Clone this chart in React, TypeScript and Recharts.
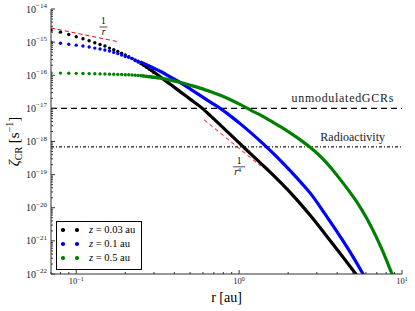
import React from 'react';
import { ComposedChart, Line, Scatter, XAxis, YAxis, ReferenceLine, ReferenceDot } from 'recharts';

const W = 415;
const H = 311;
const FONT = '"Liberation Serif", "Times New Roman", serif';
const AX = '#333';

// ---- data ----
const rDots = [0.07, 0.08, 0.09, 0.1, 0.11, 0.12, 0.13, 0.14, 0.15, 0.16, 0.17, 0.18, 0.19, 0.2, 0.21, 0.22, 0.23, 0.24, 0.25, 0.26, 0.27, 0.28, 0.29, 0.3];
const blackDots = [2.3e-15, 2.0e-15, 1.7e-15, 1.45e-15, 1.26e-15, 1.1e-15, 9.6e-16, 8.5e-16, 7.6e-16, 6.6e-16, 5.9e-16, 5.2e-16, 4.6e-16, 4.1e-16, 3.6e-16, 3.2e-16, 2.8e-16, 2.5e-16, 2.24e-16, 2.0e-16, 1.74e-16, 1.55e-16, 1.38e-16, 1.2e-16];
const blueDots = [1.0e-15, 9.2e-16, 8.6e-16, 8.1e-16, 7.6e-16, 7.1e-16, 6.6e-16, 6.2e-16, 5.8e-16, 5.4e-16, 4.9e-16, 4.5e-16, 4.1e-16, 3.7e-16, 3.5e-16, 3.2e-16, 2.9e-16, 2.65e-16, 2.45e-16, 2.25e-16, 2.05e-16, 1.87e-16, 1.73e-16, 1.6e-16];
const greenDots = [1.17e-16, 1.16e-16, 1.15e-16, 1.14e-16, 1.13e-16, 1.12e-16, 1.11e-16, 1.1e-16, 1.09e-16, 1.08e-16, 1.07e-16, 1.06e-16, 1.05e-16, 1.04e-16, 1.03e-16, 1.02e-16, 1.0e-16, 9.9e-17, 9.8e-17, 9.6e-17, 9.4e-17, 9.2e-17, 9.0e-17, 8.8e-17];

const blackLineR = [0.248, 0.286, 0.33, 0.38, 0.438, 0.505, 0.582, 0.67, 0.773, 0.891, 1.027, 1.183, 1.364, 1.573, 1.814, 2.091, 2.41, 2.778, 3.357, 4.256, 5.27, 6.07];
const blackLineV = [2.34e-16, 1.47e-16, 8.8e-17, 5.24e-17, 3.1e-17, 1.84e-17, 1.09e-17, 5.85e-18, 3.02e-18, 1.56e-18, 8.05e-19, 4.16e-19, 2.15e-19, 1.11e-19, 5.53e-20, 2.67e-20, 1.22e-20, 5.31e-21, 1.65e-21, 3.7e-22, 9.3e-23, 3.7e-23];
const blueLineR = [0.248, 0.286, 0.33, 0.38, 0.438, 0.505, 0.582, 0.67, 0.773, 0.891, 1.027, 1.183, 1.364, 1.573, 1.814, 2.091, 2.41, 2.778, 3.357, 4.256, 4.91, 5.8, 6.52];
const blueLineV = [2.51e-16, 1.81e-16, 1.3e-16, 8.77e-17, 5.89e-17, 3.75e-17, 2.39e-17, 1.52e-17, 9.66e-18, 5.73e-18, 3.29e-18, 1.82e-18, 9.73e-19, 5.02e-19, 2.51e-19, 1.21e-19, 5.62e-20, 2.49e-20, 6.64e-21, 1.16e-21, 3.83e-22, 9.5e-23, 3.5e-23];
const greenLineR = [0.248, 0.286, 0.33, 0.38, 0.438, 0.505, 0.582, 0.67, 0.773, 0.891, 1.027, 1.183, 1.364, 1.573, 1.814, 2.091, 2.41, 2.778, 3.357, 3.69, 4.256, 4.91, 5.4, 6.07, 6.84, 7.52, 8.67, 9.31];
const greenLineV = [9.66e-17, 8.89e-17, 8.17e-17, 7.11e-17, 6.02e-17, 4.95e-17, 4.02e-17, 3.17e-17, 2.45e-17, 1.79e-17, 1.27e-17, 8.71e-18, 6.15e-18, 4.1e-18, 2.7e-18, 1.72e-18, 1.06e-18, 6.28e-19, 2.61e-19, 1.53e-19, 6.37e-20, 2.49e-20, 1.26e-20, 4.79e-21, 1.54e-21, 5.61e-22, 1.02e-22, 4.3e-23];

const invR_R = [0.07, 0.18];
const invR_V = [2.67e-15, 1.03e-15];
const invR4_R = [0.61, 1.36];
const invR4_V = [4.5e-18, 1.8e-19];

const unmodulatedGCRs = 1e-17;
const radioactivity = 6.9e-19;

const seriesNames = ['z = 0.03 au', 'z = 0.1 au', 'z = 0.5 au'];
const seriesColors = ['#000000', '#0000ff', '#008000'];

const xMajor = [0.1, 1, 10];
const yMajor = [1e-22, 1e-21, 1e-20, 1e-19, 1e-18, 1e-17, 1e-16, 1e-15, 1e-14];
const minorMult = [2, 3, 4, 5, 6, 7, 8, 9];

const X_DOMAIN: [number, number] = [0.07, 10];
const Y_DOMAIN: [number, number] = [1e-22, 1e-14];

// ---- derived ----
const pts = (rs: number[], vs: number[]) => rs.map((r, i) => ({ r, v: vs[i] }));
const blackDotData = pts(rDots, blackDots);
const blueDotData = pts(rDots, blueDots);
const greenDotData = pts(rDots, greenDots);
const blackLine = pts(blackLineR, blackLineV);
const blueLine = pts(blueLineR, blueLineV);
const greenLine = pts(greenLineR, greenLineV);
const invRLine = pts(invR_R, invR_V);
const invR4Line = pts(invR4_R, invR4_V);

const withMinor = (majors: number[], lo: number, hi: number) => {
  const out: number[] = [];
  const exps = majors.map((m) => Math.round(Math.log10(m)));
  const first = exps[0] - 1;
  for (let e = first; e <= exps[exps.length - 1]; e++) {
    [1, ...minorMult].forEach((k) => {
      const v = Number(`${k}e${e}`);
      if (v >= lo * 0.9999 && v <= hi * 1.0001) out.push(v);
    });
  }
  return out;
};
const xTicks = withMinor(xMajor, X_DOMAIN[0], X_DOMAIN[1]);
const yTicks = withMinor(yMajor, Y_DOMAIN[0], Y_DOMAIN[1]);

const isMajor = (v: number) => {
  const l = Math.log10(v);
  return Math.abs(l - Math.round(l)) < 1e-6;
};
const expStr = (v: number) => {
  const e = Math.round(Math.log10(v));
  return e < 0 ? '\u2212' + Math.abs(e) : String(e);
};

const TS = 4;
const MAJ = 4;
const MIN = 2;

const LeftTick = (p: any) => {
  const { x, y, payload } = p;
  const v = payload.value;
  const maj = isMajor(v);
  const e = x + TS;
  return (
    <g>
      <line x1={e} x2={e + (maj ? MAJ : MIN)} y1={y} y2={y} stroke={AX} strokeWidth={1} />
      {maj && (
        <text x={x} y={y + 3.5} textAnchor="end" fontFamily={FONT} fontSize={10} fill="#222">
          10<tspan dy={-4.5} fontSize={7}>{expStr(v)}</tspan>
        </text>
      )}
    </g>
  );
};
const RightTick = (p: any) => {
  const { x, y, payload } = p;
  const maj = isMajor(payload.value);
  const e = x - TS;
  return <line x1={e} x2={e - (maj ? MAJ : MIN)} y1={y} y2={y} stroke={AX} strokeWidth={1} />;
};
const BottomTick = (p: any) => {
  const { x, y, payload } = p;
  const v = payload.value;
  const maj = isMajor(v);
  const e = y - TS;
  return (
    <g>
      <line x1={x} x2={x} y1={e} y2={e - (maj ? MAJ : MIN)} stroke={AX} strokeWidth={1} />
      {maj && (
        <text x={x} y={y + 6} textAnchor="middle" fontFamily={FONT} fontSize={8.5} fill="#222">
          10<tspan dy={-3.5} fontSize={6}>{expStr(v)}</tspan>
        </text>
      )}
    </g>
  );
};
const TopTick = (p: any) => {
  const { x, y, payload } = p;
  const maj = isMajor(payload.value);
  const e = y + TS;
  return <line x1={x} x2={x} y1={e} y2={e + (maj ? MAJ : MIN)} stroke={AX} strokeWidth={1} />;
};

const YLabel = (p: any) => {
  const vb = p.viewBox || { x: 6, y: 9, width: 45, height: 265 };
  const cx = vb.x + 13;
  const cy = vb.y + vb.height / 2;
  return (
    <text x={cx} y={cy} transform={`rotate(-90 ${cx} ${cy})`} textAnchor="middle" fontFamily={FONT} fontSize={15} fill="#000">
      <tspan fontStyle="italic">ζ</tspan>
      <tspan fontSize={10} dy={3}>CR</tspan>
      <tspan dy={-3}> [s</tspan>
      <tspan fontSize={10} dy={-6}>{'\u2212'}1</tspan>
      <tspan dy={6}>]</tspan>
    </text>
  );
};
const XLabel = (p: any) => {
  const vb = p.viewBox || { x: 51, y: 274, width: 351, height: 30 };
  return (
    <text x={vb.x + vb.width / 2} y={vb.y + 28} textAnchor="middle" fontFamily={FONT} fontSize={14} fill="#000">
      r [au]
    </text>
  );
};

const lineLabel = (text: string, rightPad: number, up: number, spacing: number) => (p: any) => {
  const vb = p.viewBox;
  if (!vb) return null;
  return (
    <text
      x={vb.x + vb.width - rightPad}
      y={vb.y - up}
      textAnchor="end"
      fontFamily={FONT}
      fontSize={12}
      letterSpacing={spacing}
      fill="#222"
    >
      {text}
    </text>
  );
};

const fracLabel = (power: boolean) => (p: any) => {
  const vb = p.viewBox;
  if (!vb) return null;
  const cx = vb.x + vb.width / 2;
  const cy = vb.y + vb.height / 2;
  const w = power ? 12 : 8;
  return (
    <g fontFamily={FONT} fill="#000">
      <text x={cx} y={cy - 2.6} textAnchor="middle" fontSize={9.5}>1</text>
      <line x1={cx - w / 2} x2={cx + w / 2} y1={cy} y2={cy} stroke="#000" strokeWidth={0.7} />
      <text x={cx - (power ? 1.5 : 0)} y={cy + (power ? 8.6 : 8.2)} textAnchor="middle" fontSize={9.5} fontStyle="italic">
        r{power && <tspan fontSize={6.5} dy={-3.5} fontStyle="normal">4</tspan>}
      </text>
    </g>
  );
};

const dotShape = (color: string) => (p: any) => <circle cx={p.cx} cy={p.cy} r={1.7} fill={color} />;

const Legend = () => (
  <div
    style={{
      position: 'absolute',
      left: 56,
      top: 221,
      width: 86,
      height: 49,
      border: '1px solid #000',
      background: '#fff',
      boxSizing: 'border-box',
      fontFamily: FONT,
      fontSize: 10.5,
      color: '#000',
    }}
  >
    {seriesNames.map((name, i) => (
      <div key={name} style={{ position: 'absolute', left: 0, top: 1 + i * 14, height: 14, width: 84 }}>
        {[6, 20].map((dx) => (
          <span
            key={dx}
            style={{
              position: 'absolute',
              left: dx - 1.7,
              top: 7 - 1.7,
              width: 3.4,
              height: 3.4,
              borderRadius: '50%',
              background: seriesColors[i],
            }}
          />
        ))}
        <span style={{ position: 'absolute', left: 32, top: 0, lineHeight: '14px', whiteSpace: 'pre' }}>
          <i>z</i>
          {name.slice(1)}
        </span>
      </div>
    ))}
  </div>
);

export default function App() {
  return (
    <div style={{ position: 'relative', width: W, height: H, background: '#fff' }}>
      <style>{'body{margin:0;}'}</style>
      <ComposedChart width={W} height={H} margin={{ top: 9, right: 13, bottom: 7, left: 6 }}>
        <XAxis
          xAxisId={0}
          dataKey="r"
          type="number"
          scale="log"
          domain={X_DOMAIN}
          allowDataOverflow
          ticks={xTicks}
          interval={0}
          tick={<BottomTick />}
          tickLine={false}
          tickSize={TS}
          tickMargin={0}
          axisLine={{ stroke: AX, strokeWidth: 1 }}
          height={30}
          label={XLabel}
        />
        <XAxis
          xAxisId="top"
          orientation="top"
          type="number"
          scale="log"
          domain={X_DOMAIN}
          allowDataOverflow
          ticks={xTicks}
          interval={0}
          tick={<TopTick />}
          tickLine={false}
          tickSize={TS}
          tickMargin={0}
          axisLine={{ stroke: AX, strokeWidth: 1 }}
          height={0}
        />
        <YAxis
          yAxisId={0}
          dataKey="v"
          type="number"
          scale="log"
          domain={Y_DOMAIN}
          allowDataOverflow
          ticks={yTicks}
          interval={0}
          tick={<LeftTick />}
          tickLine={false}
          tickSize={TS}
          tickMargin={0}
          axisLine={{ stroke: AX, strokeWidth: 1 }}
          width={45}
          label={YLabel}
        />
        <YAxis
          yAxisId="right"
          orientation="right"
          type="number"
          scale="log"
          domain={Y_DOMAIN}
          allowDataOverflow
          ticks={yTicks}
          interval={0}
          tick={<RightTick />}
          tickLine={false}
          tickSize={TS}
          tickMargin={0}
          axisLine={{ stroke: AX, strokeWidth: 1 }}
          width={0}
        />

        <ReferenceLine
          y={unmodulatedGCRs}
          stroke="#000"
          strokeWidth={1.1}
          strokeDasharray="6 4"
          label={lineLabel('unmodulatedGCRs', 8, 6, 0.7)}
        />
        <ReferenceLine
          y={radioactivity}
          stroke="#222"
          strokeWidth={1.1}
          strokeDasharray="3 2 1 2"
          label={lineLabel('Radioactivity', 17, 6, 0)}
        />

        <Line data={blackLine} dataKey="v" type="monotone" stroke={seriesColors[0]} strokeWidth={3.2} dot={false} isAnimationActive={false} />
        <Scatter data={blackDotData} dataKey="v" fill={seriesColors[0]} shape={dotShape(seriesColors[0])} isAnimationActive={false} />
        <Line data={blueLine} dataKey="v" type="monotone" stroke={seriesColors[1]} strokeWidth={3.2} dot={false} isAnimationActive={false} />
        <Scatter data={blueDotData} dataKey="v" fill={seriesColors[1]} shape={dotShape(seriesColors[1])} isAnimationActive={false} />
        <Line data={greenLine} dataKey="v" type="monotone" stroke={seriesColors[2]} strokeWidth={3.2} dot={false} isAnimationActive={false} />
        <Scatter data={greenDotData} dataKey="v" fill={seriesColors[2]} shape={dotShape(seriesColors[2])} isAnimationActive={false} />

        <Line data={invRLine} dataKey="v" type="linear" stroke="#ff0000" strokeWidth={1} strokeDasharray="4 3" dot={false} isAnimationActive={false} />
        <Line data={invR4Line} dataKey="v" type="linear" stroke="#ff0000" strokeWidth={1} strokeDasharray="4 3" dot={false} isAnimationActive={false} />

        <ReferenceDot x={0.147} y={2.86e-15} r={1} fillOpacity={0} strokeOpacity={0} label={fracLabel(false)} />
        <ReferenceDot x={1.0} y={1.72e-19} r={1} fillOpacity={0} strokeOpacity={0} label={fracLabel(true)} />
      </ComposedChart>
      <Legend />
    </div>
  );
}
